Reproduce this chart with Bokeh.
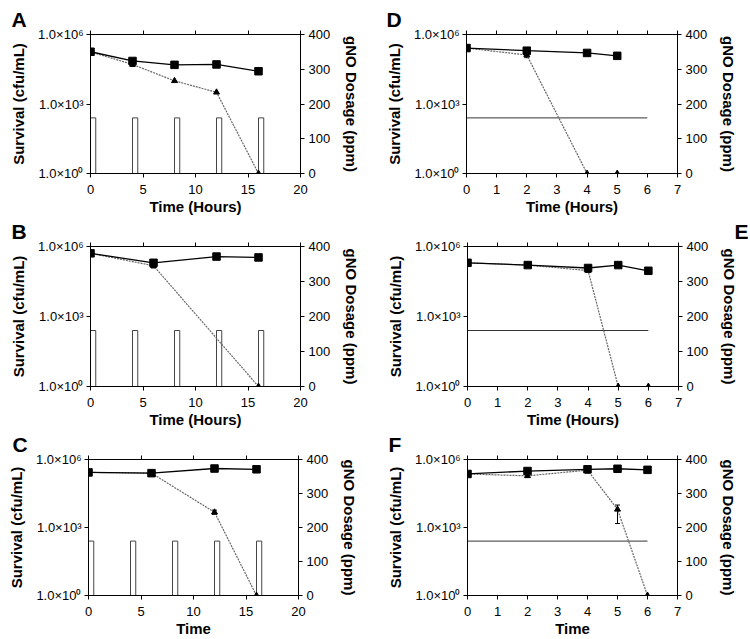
from bokeh.plotting import figure
from bokeh.models import Range1d, LinearAxis, FixedTicker, Whisker, ColumnDataSource, TeeHead, LinearScale
from bokeh.layouts import column, row
from bokeh.embed import file_html
from bokeh.resources import INLINE

FONT = "Liberation Sans"

# ---------------- data ----------------
# Panel A (pulsed gNO, hours)
a_t_sq = [0, 4, 8, 12, 16]
a_sq = [1.8e5, 7.2e4, 4.9e4, 5.1e4, 2.6e4]
a_t_tri = [0, 4, 8, 12, 16]
a_tri = [1.8e5, 5.1e4, 1.0e4, 3.2e3, 1.0]
a_err_t = [4, 8, 16, 4]
a_err_lo = [6.0e4, 4.0e4, 2.1e4, 4.2e4]
a_err_hi = [8.5e4, 6.3e4, 3.2e4, 6.0e4]

# Panel B
b_t_sq = [0, 6, 12, 16]
b_sq = [5.1e5, 2.0e5, 3.7e5, 3.4e5]
b_t_tri = [0, 6, 16]
b_tri = [5.1e5, 1.5e5, 1.0]
b_err_t = [6, 6]
b_err_lo = [1.6e5, 1.2e5]
b_err_hi = [2.5e5, 1.8e5]

# Panel C
c_t_sq = [0, 6, 12, 16]
c_sq = [2.7e5, 2.5e5, 4.0e5, 3.7e5]
c_t_tri = [0, 6, 12, 16]
c_tri = [2.7e5, 2.5e5, 4.7e3, 1.0]
c_err_t = [12]
c_err_lo = [3.8e3]
c_err_hi = [5.8e3]

# Panel D (continuous gNO)
d_t_sq = [0, 2, 4, 5]
d_sq = [2.6e5, 2.0e5, 1.6e5, 1.2e5]
d_t_tri = [0, 2, 4, 5]
d_tri = [2.6e5, 1.3e5, 1.0, 1.0]
d_err_t = [2]
d_err_lo = [1.0e5]
d_err_hi = [1.6e5]

# Panel E
e_t_sq = [0, 2, 4, 5, 6]
e_sq = [2.0e5, 1.6e5, 1.2e5, 1.6e5, 9.1e4]
e_t_tri = [0, 2, 4, 5, 6]
e_tri = [2.0e5, 1.6e5, 9.3e4, 1.0, 1.0]
e_err_t = [4]
e_err_lo = [8.0e4]
e_err_hi = [1.4e5]

# Panel F
f_t_sq = [0, 2, 4, 5, 6]
f_sq = [2.3e5, 3.1e5, 3.7e5, 3.9e5, 3.5e5]
f_t_tri = [0, 2, 4, 5, 6]
f_tri = [2.3e5, 1.9e5, 3.4e5, 6.3e3, 1.0]
f_err_t = [4, 5, 2]
f_err_lo = [2.5e5, 1.5e3, 1.6e5]
f_err_hi = [4.0e5, 9.8e3, 2.3e5]

# gNO dosing
pulse_start = [0, 4, 8, 12, 16]
pulse_end = [0.5, 4.5, 8.5, 12.5, 16.5]
pulse_ppm = [160, 160, 160, 160, 160]
cont_t = [0, 6]
cont_ppm = [160, 160]

ticks_long = [0, 5, 10, 15, 20]
ticks_short = [0, 1, 2, 3, 4, 5, 6, 7]
y_ticks = [1.0, 1.0e3, 1.0e6]
y_tick_labels = ["1.0×10⁰", "1.0×10³", "1.0×10⁶"]
dose_ticks = [0, 100, 200, 300, 400]


def style_axis(ax):
    ax.axis_line_color = "black"
    ax.axis_line_width = 1
    ax.major_tick_line_color = "black"
    ax.major_tick_out = 4
    ax.major_tick_in = 0
    ax.minor_tick_line_color = None
    ax.major_label_text_font = FONT
    ax.major_label_text_font_size = "13px"
    ax.major_label_text_color = "black"
    ax.major_label_text_line_height = 1.0
    ax.axis_label_text_font = FONT
    ax.axis_label_text_font_size = "15px"
    ax.axis_label_text_font_style = "bold"
    ax.axis_label_text_color = "black"
    ax.axis_label_text_line_height = 1.0


def panel(letter, t_sq, sq, t_tri, tri, et, elo, ehi, xmax, xticks, xlabel, pulsed,
          h, bl, br, bt, bb, align, off):
    p = figure(width=375, height=h, x_range=Range1d(0, xmax), y_range=Range1d(1, 1e6),
               y_axis_type="log", output_backend="svg", toolbar_location=None, title=letter,
               min_border_left=bl, min_border_right=br, min_border_top=bt, min_border_bottom=bb)
    p.extra_y_ranges = {"dose": Range1d(0, 400)}
    p.extra_y_scales = {"dose": LinearScale()}
    p.xgrid.visible = False
    p.ygrid.visible = False
    p.outline_line_color = "black"
    p.background_fill_color = "white"
    p.border_fill_color = "white"

    p.title.align = align
    p.title.offset = off
    p.title.standoff = 0
    p.title.vertical_align = "bottom"
    p.title.text_font = FONT
    p.title.text_font_size = "21px"
    p.title.text_font_style = "bold"
    p.title.text_color = "black"
    p.title.text_line_height = 1.0

    xa = p.xaxis[0]
    xa.ticker = FixedTicker(ticks=xticks)
    xa.axis_label = xlabel
    style_axis(xa)
    xa.major_label_standoff = 7
    xa.axis_label_standoff = 1

    ya = p.yaxis[0]
    ya.ticker = FixedTicker(ticks=y_ticks)
    ya.major_label_overrides = {k: v for k, v in zip(y_ticks, y_tick_labels)}
    ya.axis_label = "Survival (cfu/mL)"
    style_axis(ya)
    ya.major_label_standoff = 3
    ya.axis_label_standoff = 8

    ra = LinearAxis(y_range_name="dose", ticker=FixedTicker(ticks=dose_ticks),
                    axis_label="gNO Dosage (ppm)")
    style_axis(ra)
    ra.major_label_standoff = 4
    ra.axis_label_standoff = 10
    p.add_layout(ra, "right")

    ta = LinearAxis(ticker=FixedTicker(ticks=xticks))
    style_axis(ta)
    ta.major_label_text_color = None
    ta.major_label_text_font_size = "0px"
    ta.major_label_standoff = 0
    p.add_layout(ta, "above")

    if pulsed:
        p.quad(left=pulse_start, right=pulse_end, bottom=[0] * len(pulse_ppm), top=pulse_ppm,
               y_range_name="dose", fill_color="white", line_color="#444444", line_width=1)
    else:
        p.line(cont_t, cont_ppm, y_range_name="dose", line_color="#333333", line_width=1)

    p.line(t_tri, tri, line_color="#666666", line_width=1.2, line_dash="2 1")
    p.line(t_sq, sq, line_color="black", line_width=1.3)

    src = ColumnDataSource(dict(t=et, lo=elo, hi=ehi))
    p.add_layout(Whisker(source=src, base="t", lower="lo", upper="hi", dimension="height",
                         line_color="black", line_width=1,
                         lower_head=TeeHead(size=5, line_color="black", line_width=1),
                         upper_head=TeeHead(size=5, line_color="black", line_width=1)))

    p.scatter(t_tri, tri, marker="triangle", size=6, color="black")
    p.scatter(t_sq, sq, marker="square", size=7.5, color="black")
    return p


pA = panel("A", a_t_sq, a_sq, a_t_tri, a_tri, a_err_t, a_err_lo, a_err_hi, 20, ticks_long,
           "Time (Hours)", True, 217, 90, 75, 34, 44, "left", -79)
pD = panel("D", d_t_sq, d_sq, d_t_tri, d_tri, d_err_t, d_err_lo, d_err_hi, 7, ticks_short,
           "Time (Hours)", False, 217, 91, 73, 34, 44, "left", -80)
pB = panel("B", b_t_sq, b_sq, b_t_tri, b_tri, b_err_t, b_err_lo, b_err_hi, 20, ticks_long,
           "Time (Hours)", True, 213, 90, 75, 29, 44, "left", -79)
pE = panel("E", e_t_sq, e_sq, e_t_tri, e_tri, e_err_t, e_err_lo, e_err_hi, 7, ticks_short,
           "Time (Hours)", False, 213, 92, 72, 29, 44, "right", -70)
pC = panel("C", c_t_sq, c_sq, c_t_tri, c_tri, c_err_t, c_err_lo, c_err_hi, 20, ticks_long,
           "Time", True, 209, 88, 77, 26, 44, "left", -76)
pF = panel("F", f_t_sq, f_sq, f_t_tri, f_tri, f_err_t, f_err_lo, f_err_hi, 7, ticks_short,
           "Time", False, 209, 92, 73, 26, 44, "left", -79)

layout = column(row(pA, pD), row(pB, pE), row(pC, pF))

with open("out.html", "w") as fh:
    fh.write(file_html(layout, INLINE))
